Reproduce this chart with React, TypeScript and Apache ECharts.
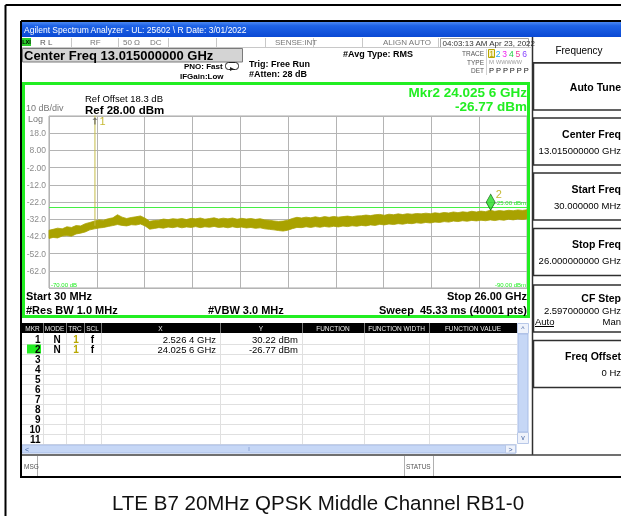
import React, { useEffect, useRef } from 'react';
import * as echarts from 'echarts';

// ---------- data ----------
const startFreqGHz = 0.03;
const stopFreqGHz = 26.0;
const refLevelDbm = 28;
const dbPerDiv = 10;
const numDivs = 10;

const traceFreqGHz = [0.03,0.25,0.5,0.75,1,1.25,1.5,1.75,2,2.25,2.5,2.75,3,3.25,3.5,3.75,4,4.25,4.5,4.75,5,5.25,5.5,5.75,6,6.25,6.5,6.75,7,7.25,7.5,7.75,8,8.25,8.5,8.75,9,9.25,9.5,9.75,10,10.25,10.5,10.75,11,11.25,11.5,11.75,12,12.25,12.5,12.75,13,13.25,13.5,13.75,14,14.25,14.5,14.75,15,15.25,15.5,15.75,16,16.25,16.5,16.75,17,17.25,17.5,17.75,18,18.25,18.5,18.75,19,19.25,19.5,19.75,20,20.25,20.5,20.75,21,21.25,21.5,21.75,22,22.25,22.5,22.75,23,23.25,23.5,23.75,24,24.25,24.5,24.75,25,25.25,25.5,25.75,26];
const traceLowDbm = [-43.2,-42.6,-42.9,-41.8,-41.5,-41.9,-40.6,-40.1,-39.4,-38.2,-37.6,-37.1,-36.8,-36.2,-35.7,-35.1,-35.6,-35.9,-35.2,-35.4,-34.8,-35.9,-37.8,-37.4,-36.9,-37.2,-36.6,-36.9,-36.4,-37.0,-36.5,-36.8,-36.3,-36.9,-36.4,-36.7,-36.2,-36.8,-36.5,-37.0,-36.4,-36.9,-36.6,-37.1,-36.8,-37.3,-37.0,-37.6,-37.9,-38.2,-38.6,-38.9,-38.4,-37.5,-36.8,-36.9,-36.4,-36.8,-36.3,-36.7,-36.2,-36.6,-36.1,-36.5,-36.0,-36.3,-35.8,-36.1,-35.6,-35.9,-35.3,-35.6,-35.0,-35.3,-34.8,-35.1,-34.6,-34.9,-34.4,-34.6,-34.1,-34.4,-33.9,-34.2,-33.7,-33.9,-33.4,-33.7,-33.1,-33.4,-32.9,-33.2,-32.7,-33.0,-32.6,-32.9,-32.4,-32.8,-32.3,-32.6,-32.0,-32.4,-31.9,-32.2,-31.8];
const traceHighDbm = [-38.4,-37.9,-37.2,-37.6,-36.4,-36.8,-35.7,-35.9,-34.6,-33.9,-33.1,-32.4,-32.6,-31.7,-31.2,-29.4,-30.8,-31.6,-31.0,-30.6,-30.1,-31.4,-33.2,-32.8,-32.6,-31.9,-32.3,-31.7,-32.0,-31.6,-32.2,-31.5,-31.8,-31.3,-32.0,-31.6,-31.2,-31.9,-31.4,-31.8,-31.3,-32.0,-31.5,-31.9,-31.6,-32.1,-31.7,-32.4,-32.6,-33.0,-33.3,-33.1,-32.6,-31.6,-30.9,-31.3,-30.8,-31.2,-30.6,-31.1,-30.5,-30.9,-30.4,-30.8,-30.5,-30.2,-30.6,-30.1,-30.0,-29.6,-29.9,-29.4,-29.2,-29.7,-29.1,-29.4,-28.9,-29.3,-28.8,-29.1,-28.7,-28.9,-28.5,-28.8,-28.3,-28.6,-28.1,-28.4,-27.8,-28.2,-27.7,-28.0,-27.4,-27.8,-27.3,-27.6,-26.8,-27.4,-27.0,-27.3,-26.8,-27.1,-26.6,-26.9,-26.5];

const markerIds = ['1', '2'];
const markerFreqGHz = [2.5264, 24.0256];
const markerLevelDbm = [30.22, -26.77];
const markerModes = ['N', 'N'];
const markerTraces = ['1', '1'];
const markerScales = ['f', 'f'];
const markerXLabels = ['2.526 4 GHz', '24.025 6 GHz'];
const markerYLabels = ['30.22 dBm', '-26.77 dBm'];
const markerSpikeBaseDbm = -35.8;
const displayLineDbm = -25;

const tableHeaders = ['MKR', 'MODE', 'TRC', 'SCL', 'X', 'Y', 'FUNCTION', 'FUNCTION WIDTH', 'FUNCTION VALUE'];
const tableRowNumbers = ['1', '2', '3', '4', '5', '6', '7', '8', '9', '10', '11'];

const softkeyTitles = ['Auto Tune', 'Center Freq', 'Start Freq', 'Stop Freq', 'CF Step', 'Freq Offset'];
const softkeyValues = ['', '13.015000000 GHz', '30.000000 MHz', '26.000000000 GHz', '2.597000000 GHz', '0 Hz'];

const traceNumberColors = ['#b8a800', '#22aaee', '#ee22ee', '#22cc44', '#ee3399', '#8844ff'];

// ---------- styling ----------
const FF = '"Liberation Sans", Arial, Helvetica, sans-serif';
const OLIVE = '#a9a200';
const GREEN = '#22ee22';

function T(x: number, y: number, s: string, size: number, o: any = {}) {
  return {
    type: 'text', x, y, z: o.z ?? 50,
    style: {
      text: s, fill: o.fill ?? '#000', fontSize: size,
      fontWeight: o.bold ? 'bold' : 'normal', fontFamily: FF,
      align: o.align ?? 'left', verticalAlign: 'middle',
    },
  };
}
function R(x: number, y: number, w: number, h: number, o: any = {}) {
  return {
    type: 'rect', z: o.z ?? 10,
    shape: { x, y, width: w, height: h, r: o.r ?? 0 },
    style: { fill: o.fill ?? 'none', stroke: o.stroke ?? 'none', lineWidth: o.lw ?? 1 },
  };
}
function L(x1: number, y1: number, x2: number, y2: number, stroke: string, lw = 1, z = 20) {
  return { type: 'line', z, shape: { x1, y1, x2, y2 }, style: { stroke, lineWidth: lw } };
}

function buildGraphics() {
  const g: any[] = [];
  // outer document frame
  g.push(L(5.5, 5, 621, 5, '#000', 2));
  g.push(L(5.5, 5, 5.5, 516, '#000', 2));
  // screenshot border
  g.push(L(21, 21, 621, 21, '#000', 2));
  g.push(L(21, 21, 21, 478, '#000', 2));
  g.push(L(21, 477, 621, 477, '#000', 2));

  // title bar
  g.push({
    type: 'rect', z: 10, shape: { x: 22, y: 22, width: 600, height: 15 },
    style: {
      fill: new echarts.graphic.LinearGradient(0, 0, 0, 1, [
        { offset: 0, color: '#4a88f2' }, { offset: 0.25, color: '#1f63e6' }, { offset: 1, color: '#0a49d4' },
      ]),
    },
  });
  g.push(T(24, 30, 'Agilent Spectrum Analyzer - UL: 25602 \\ R Date: 3/01/2022', 8.5, { fill: '#fff' }));

  // status row
  g.push(L(22, 47.5, 531, 47.5, '#c8c8c8', 1));
  [71, 118, 168, 216, 265, 313, 362, 438].forEach((x) => g.push(L(x + 0.5, 38, x + 0.5, 47, '#c8c8c8', 1)));
  g.push(R(22, 38, 9, 8, { fill: '#2ad02a' }));
  g.push(T(26.5, 42.2, 'LXI', 5.5, { bold: true, align: 'center', fill: '#000' }));
  g.push(T(40, 42.5, 'R L', 8, { fill: '#555' }));
  g.push(T(90, 42.5, 'RF', 8, { fill: '#777' }));
  g.push(T(123, 42.5, '50 Ω', 8, { fill: '#777' }));
  g.push(T(150, 42.5, 'DC', 8, { fill: '#777' }));
  g.push(T(275, 42.5, 'SENSE:INT', 8, { fill: '#777' }));
  g.push(T(383, 42.5, 'ALIGN AUTO', 8, { fill: '#777' }));
  g.push(R(440.5, 38.5, 88, 9, { stroke: '#a0a0a0' }));
  g.push(T(442.5, 43, '04:03:13 AM Apr 23, 2022', 8, { fill: '#333' }));

  // center freq box
  g.push(R(22.5, 48.5, 220, 13.5, { fill: '#d4d4d4', stroke: '#7a7a7a' }));
  g.push(T(24, 55.5, 'Center Freq 13.015000000 GHz', 13, { bold: true }));

  g.push(T(184, 66.5, 'PNO: Fast', 8, { bold: true }));
  g.push(T(180, 76, 'IFGain:Low', 8, { bold: true }));
  g.push(R(225.5, 62.5, 13, 7, { stroke: '#222', r: 3, lw: 1 }));
  g.push({ type: 'polygon', z: 20, shape: { points: [[230, 67], [234, 69], [230, 71]] }, style: { fill: '#222' } });
  g.push(T(249, 64, 'Trig: Free Run', 9, { bold: true }));
  g.push(T(249, 74, '#Atten: 28 dB', 9, { bold: true }));
  g.push(T(343, 54, '#Avg Type: RMS', 9, { bold: true }));

  g.push(T(484, 53.5, 'TRACE', 6.5, { align: 'right', fill: '#555' }));
  g.push(T(484, 62, 'TYPE', 6.5, { align: 'right', fill: '#555' }));
  g.push(T(484, 70.5, 'DET', 6.5, { align: 'right', fill: '#555' }));
  g.push(L(486.5, 49, 486.5, 75, '#d0d0d0', 1));
  g.push(R(488.5, 49.5, 6, 8, { fill: '#fbf3c8', stroke: '#b8a800' }));
  traceNumberColors.forEach((c, i) => g.push(T(491.5 + i * 6.6, 53.8, String(i + 1), 8.5, { fill: c, align: 'center' })));
  g.push(T(489, 62, 'M', 6, { fill: '#999' }));
  g.push(T(496, 62, 'WWWWW', 5.5, { fill: '#999' }));
  g.push(T(489, 70.5, 'P P P P P P', 7.5, { fill: '#111' }));

  // right softkey panel
  g.push(L(532.5, 37, 532.5, 455, '#303030', 1.5));
  g.push(T(579, 50, 'Frequency', 10, { align: 'center' }));
  g.push(L(533, 62.5, 621, 62.5, '#303030', 1));
  const tops = [63, 118, 173, 228.5, 285, 340.5];
  softkeyTitles.forEach((title, i) => {
    const top = tops[i];
    g.push(R(533.5, top, 100, 47, { stroke: '#303030', lw: 1.5 }));
    const val = softkeyValues[i];
    if (!val) {
      g.push(T(621, top + 23.5, title, 10.5, { bold: true, align: 'right' }));
    } else if (title === 'CF Step') {
      g.push(T(621, top + 12.5, title, 10.5, { bold: true, align: 'right' }));
      g.push(T(621, top + 25, val, 9.5, { align: 'right' }));
      g.push(T(535, top + 36.5, 'Auto', 9.5));
      g.push(L(535, top + 41.5, 554, top + 41.5, '#000', 1));
      g.push(T(621, top + 36.5, 'Man', 9.5, { align: 'right' }));
    } else {
      g.push(T(621, top + 15.5, title, 10.5, { bold: true, align: 'right' }));
      g.push(T(621, top + 32, val, 9.5, { align: 'right' }));
    }
  });

  // green graticule frame
  g.push(R(23.5, 83.5, 505, 233, { stroke: GREEN, lw: 3, z: 30 }));
  g.push(T(85, 98, 'Ref Offset 18.3 dB', 9.5));
  g.push(T(85, 109.5, 'Ref 28.00 dBm', 11.5, { bold: true }));
  g.push(T(26, 108, '10 dB/div', 9, { fill: '#777' }));
  g.push(T(28, 118.5, 'Log', 9, { fill: '#777' }));
  g.push(T(527, 92, 'Mkr2 24.025 6 GHz', 13.5, { bold: true, fill: GREEN, align: 'right' }));
  g.push(T(527, 106.5, '-26.77 dBm', 13.5, { bold: true, fill: GREEN, align: 'right' }));
  g.push(T(51, 284.5, '-70.00 dB', 6, { fill: GREEN }));
  g.push(T(526, 284.5, '-90.00 dBm', 6, { fill: GREEN, align: 'right' }));
  g.push(T(26, 295.5, 'Start 30 MHz', 11, { bold: true }));
  g.push(T(527, 295.5, 'Stop 26.00 GHz', 11, { bold: true, align: 'right' }));
  g.push(T(26, 309.5, '#Res BW 1.0 MHz', 11, { bold: true }));
  g.push(T(208, 309.5, '#VBW 3.0 MHz', 11, { bold: true }));
  g.push(T(527, 309.5, 'Sweep  45.33 ms (40001 pts)', 11, { bold: true, align: 'right' }));

  // marker table
  const edges = [22, 43, 66, 84, 101, 220, 302, 364, 429, 517];
  g.push(R(22, 323, 495, 10, { fill: '#000' }));
  tableHeaders.forEach((h, i) => {
    g.push(T((edges[i] + edges[i + 1]) / 2, 328.3, h, 6.5, { fill: '#eee', align: 'center' }));
    if (i > 0) g.push(L(edges[i] + 0.5, 323, edges[i] + 0.5, 333, '#777', 1));
  });
  for (let r = 0; r < 11; r++) {
    const yb = 344 + r * 10;
    g.push(L(22, yb + 0.5, 517, yb + 0.5, '#e0e0e0', 1, 5));
  }
  edges.slice(1, -1).forEach((x) => g.push(L(x + 0.5, 333, x + 0.5, 444, '#e0e0e0', 1, 5)));
  g.push(R(27, 344.5, 14, 9, { fill: GREEN }));
  tableRowNumbers.forEach((n, r) => {
    const y = 339.3 + r * 10;
    g.push(T(40.5, y, n, 10, { bold: true, align: 'right' }));
    if (r < markerIds.length) {
      g.push(T(57, y, markerModes[r], 10, { bold: true, align: 'center' }));
      g.push(T(76, y, markerTraces[r], 10, { bold: true, align: 'center', fill: '#b8a800' }));
      g.push(T(92.5, y, markerScales[r], 10, { bold: true, align: 'center' }));
      g.push(T(216, y, markerXLabels[r], 9.5, { align: 'right' }));
      g.push(T(298, y, markerYLabels[r], 9.5, { align: 'right' }));
    }
  });
  // scrollbars
  g.push(R(517.5, 323.5, 11, 10, { fill: '#eef2fb', stroke: '#b8c8e8' }));
  g.push(T(523, 328.5, '^', 7, { align: 'center', fill: '#4060a0' }));
  g.push(R(518, 334, 10, 98, { fill: '#c6d7f6', stroke: '#a9bde6' }));
  g.push(R(517.5, 432.5, 11, 11, { fill: '#eef2fb', stroke: '#b8c8e8' }));
  g.push(T(523, 437.5, 'v', 7, { align: 'center', fill: '#4060a0' }));
  g.push(R(22, 445, 494, 8, { fill: '#c6d7f6', stroke: '#a9bde6' }));
  g.push(T(25, 449, '<', 7, { fill: '#4060a0' }));
  g.push(R(505.5, 445, 10, 8, { fill: '#eef2fb', stroke: '#b8c8e8' }));
  g.push(T(510.5, 449, '>', 7, { align: 'center', fill: '#4060a0' }));
  g.push(L(249, 447, 249, 451, '#90a8d8', 1));

  // MSG / STATUS row
  g.push(L(22, 455, 621, 455, '#404040', 1.5));
  g.push(T(24, 466, 'MSG', 6.5, { fill: '#555' }));
  g.push(L(37.5, 456, 37.5, 476, '#b0b0b0', 1));
  g.push(L(404.5, 456, 404.5, 476, '#b0b0b0', 1));
  g.push(L(433.5, 456, 433.5, 476, '#b0b0b0', 1));
  g.push(T(406, 466, 'STATUS', 6.5, { fill: '#555' }));

  // caption
  g.push(T(318, 502, 'LTE B7 20MHz QPSK Middle Channel RB1-0', 20.5, { align: 'center', fill: '#111' }));
  return g;
}

export default function App() {
  const ref = useRef<HTMLDivElement>(null);
  useEffect(() => {
    document.body.style.margin = '0';
    if (!ref.current) return;
    const chart = echarts.init(ref.current, null, { renderer: 'svg' });
    const bottomDbm = refLevelDbm - dbPerDiv * numDivs;
    const spanGHz = stopFreqGHz - startFreqGHz;
    const xv = (f: number) => f - startFreqGHz;
    const yv = (d: number) => d - bottomDbm;
    const n = Math.min(traceFreqGHz.length, traceLowDbm.length, traceHighDbm.length);
    const bandData: number[][] = [];
    for (let i = 0; i < n; i++) {
      bandData.push([xv(traceFreqGHz[i]), yv(traceLowDbm[i]), yv(traceHighDbm[i])]);
    }
    const fmt = (v: number) => {
      if (v <= 0.001 || v >= dbPerDiv * numDivs - 0.001) return '';
      const d = v + bottomDbm;
      return Math.abs(d) < 10 ? d.toFixed(2) : d.toFixed(1);
    };
    chart.setOption({
      animation: false,
      grid: { left: 49, top: 116, width: 478, height: 172, show: true, borderColor: '#a8a8a8', borderWidth: 1, backgroundColor: 'transparent' },
      xAxis: {
        type: 'value', min: 0, max: spanGHz, interval: spanGHz / numDivs,
        axisLine: { show: false }, axisTick: { show: false }, axisLabel: { show: false },
        splitLine: { show: true, lineStyle: { color: '#b4b4b4', width: 1 } },
      },
      yAxis: {
        type: 'value', min: 0, max: dbPerDiv * numDivs, interval: dbPerDiv,
        axisLine: { show: false }, axisTick: { show: false },
        axisLabel: { formatter: fmt, color: '#8c8c8c', fontSize: 8.5, fontFamily: FF, margin: 3 },
        splitLine: { show: true, lineStyle: { color: '#b4b4b4', width: 1 } },
      },
      series: [
        {
          type: 'custom', name: 'trace1', z: 3, data: bandData,
          encode: { x: 0, y: [1, 2] },
          renderItem: (params: any, api: any) => {
            if (params.dataIndex !== 0) return null;
            const pts: number[][] = [];
            for (let i = 0; i < bandData.length; i++) pts.push(api.coord([bandData[i][0], bandData[i][2]]));
            for (let i = bandData.length - 1; i >= 0; i--) pts.push(api.coord([bandData[i][0], bandData[i][1]]));
            return { type: 'polygon', shape: { points: pts }, style: { fill: OLIVE, stroke: OLIVE, lineWidth: 0.8 } };
          },
        },
        {
          type: 'line', name: 'displayLine', data: [], symbol: 'none',
          markLine: {
            silent: true, symbol: 'none',
            lineStyle: { color: '#44f044', width: 1, type: 'solid' },
            label: { show: true, position: 'insideEndTop', formatter: displayLineDbm.toFixed(2) + ' dBm', color: GREEN, fontSize: 6, distance: 1 },
            data: [{ yAxis: yv(displayLineDbm) }],
          },
        },
        {
          type: 'line', name: 'marker1Spike', symbol: 'none', z: 4, clip: true,
          lineStyle: { color: '#c4bc48', width: 1 },
          data: [[xv(markerFreqGHz[0]), yv(markerSpikeBaseDbm)], [xv(markerFreqGHz[0]), yv(markerLevelDbm[0])]],
        },
        {
          type: 'scatter', name: 'marker1', z: 6, clip: false,
          symbol: 'path://M4,0 L8,4 L5,4 L5,12 L3,12 L3,4 L0,4 Z', symbolSize: [5, 7], symbolOffset: [0, 5],
          itemStyle: { color: '#555' },
          label: { show: true, formatter: markerIds[0], position: [7, -2], color: '#b8a800', fontSize: 11, fontFamily: FF },
          data: [[xv(markerFreqGHz[0]), Math.min(yv(markerLevelDbm[0]), dbPerDiv * numDivs)]],
        },
        {
          type: 'scatter', name: 'marker2', z: 6,
          symbol: 'diamond', symbolSize: [9, 16], symbolOffset: [0, -8],
          itemStyle: { color: '#22dd22', borderColor: '#0c5a0c', borderWidth: 0.8 },
          label: { show: true, formatter: markerIds[1], position: [10, -5], color: '#b8a800', fontSize: 11, fontFamily: FF },
          data: [[xv(markerFreqGHz[1]), yv(markerLevelDbm[1])]],
        },
      ],
      graphic: { elements: buildGraphics() },
    });
    return () => chart.dispose();
  }, []);
  return <div ref={ref} style={{ position: 'fixed', left: 0, top: 0, width: 621, height: 516 }} />;
}
